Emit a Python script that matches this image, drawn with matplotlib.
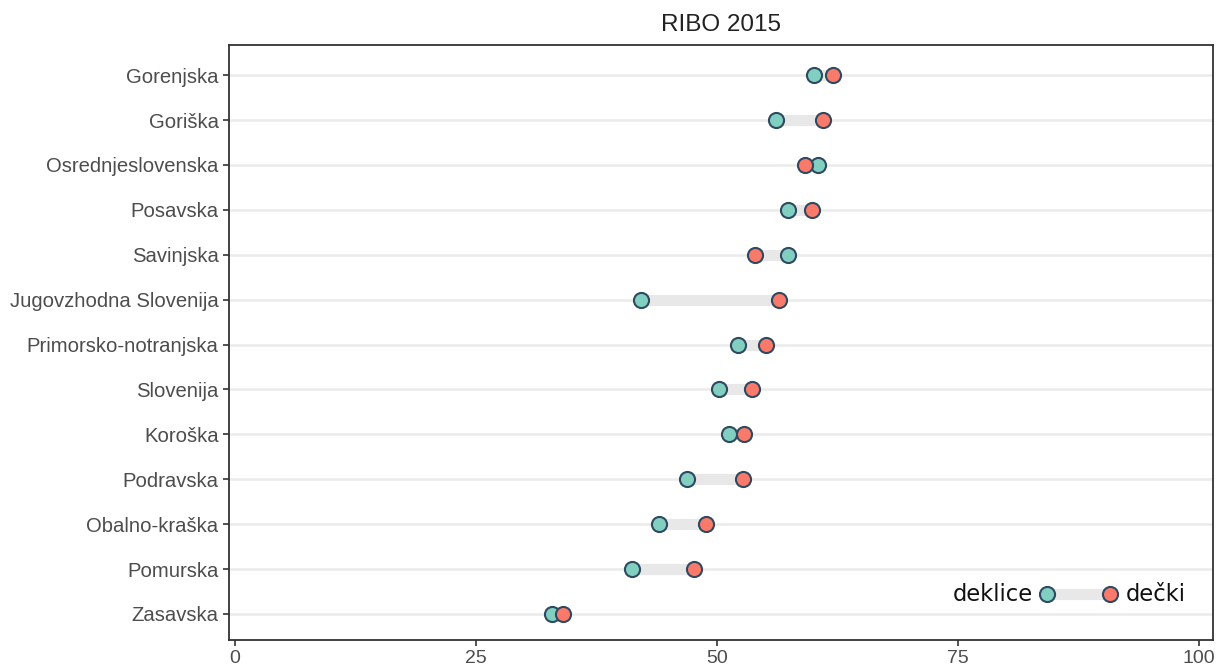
import matplotlib
matplotlib.use('Agg')
import matplotlib.pyplot as plt

regions = ["Gorenjska", "Goriška", "Osrednjeslovenska", "Posavska", "Savinjska",
           "Jugovzhodna Slovenija", "Primorsko-notranjska", "Slovenija", "Koroška",
           "Podravska", "Obalno-kraška", "Pomurska", "Zasavska"]
deklice = [60.1, 56.2, 60.5, 57.4, 57.4, 42.1, 52.2, 50.2, 51.3, 46.9, 44.0, 41.2, 32.9]
decki = [62.1, 61.0, 59.2, 59.9, 54.0, 56.5, 55.1, 53.7, 52.8, 52.7, 48.9, 47.7, 34.1]
xticks = [0, 25, 50, 75, 100]

teal = "#80CFC0"
red = "#F9796A"
edge = "#2F4A60"
seg = "#E8E8E8"

fig = plt.figure(figsize=(12.27, 6.68), dpi=100)
ax = fig.add_axes([0.1866, 0.0419, 0.8020, 0.8907])

n = len(regions)
ypos = list(range(n, 0, -1))

for y in ypos:
    ax.axhline(y, color="#EBEBEB", lw=1.8, zorder=0)

ax.hlines(ypos, deklice, decki, color=seg, lw=8, zorder=1)
ax.scatter(deklice, ypos, s=118, color=teal, edgecolor=edge, linewidth=1.5, zorder=3)
ax.scatter(decki, ypos, s=118, color=red, edgecolor=edge, linewidth=1.5, zorder=3)

ax.set_xlim(-0.6, 101.5)
ax.set_ylim(0.42, n + 0.67)
ax.set_yticks(ypos)
ax.set_yticklabels(regions, fontsize=14.6, color="#4D4D4D", family="Liberation Sans")
ax.set_xticks(xticks)
ax.set_xticklabels([str(t) for t in xticks], fontsize=14, color="#4D4D4D",
                   family="Liberation Sans")
ax.tick_params(length=4, width=1.2, color="#333333")
for s in ax.spines.values():
    s.set_color("#333333")
    s.set_linewidth(1.3)

ax.set_title("RIBO 2015", fontsize=17.5, family="Liberation Sans", color="#222222", pad=10)

# legend drawn by hand: "deklice o----o dečki"
tr = ax.transAxes
ax.plot([0.831, 0.895], [0.077, 0.077], color=seg, lw=8, transform=tr, zorder=4)
ax.scatter([0.831], [0.077], s=118, color=teal, edgecolor=edge, linewidth=1.5, transform=tr, zorder=5)
ax.scatter([0.895], [0.077], s=118, color=red, edgecolor=edge, linewidth=1.5, transform=tr, zorder=5)
ax.text(0.817, 0.077, "deklice", transform=tr, ha="right", va="center", fontsize=16.3,
        family="DejaVu Sans", color="#111111")
ax.text(0.911, 0.077, "dečki", transform=tr, ha="left", va="center", fontsize=16.3,
        family="DejaVu Sans", color="#111111")

fig.savefig("out.png", dpi=100)
